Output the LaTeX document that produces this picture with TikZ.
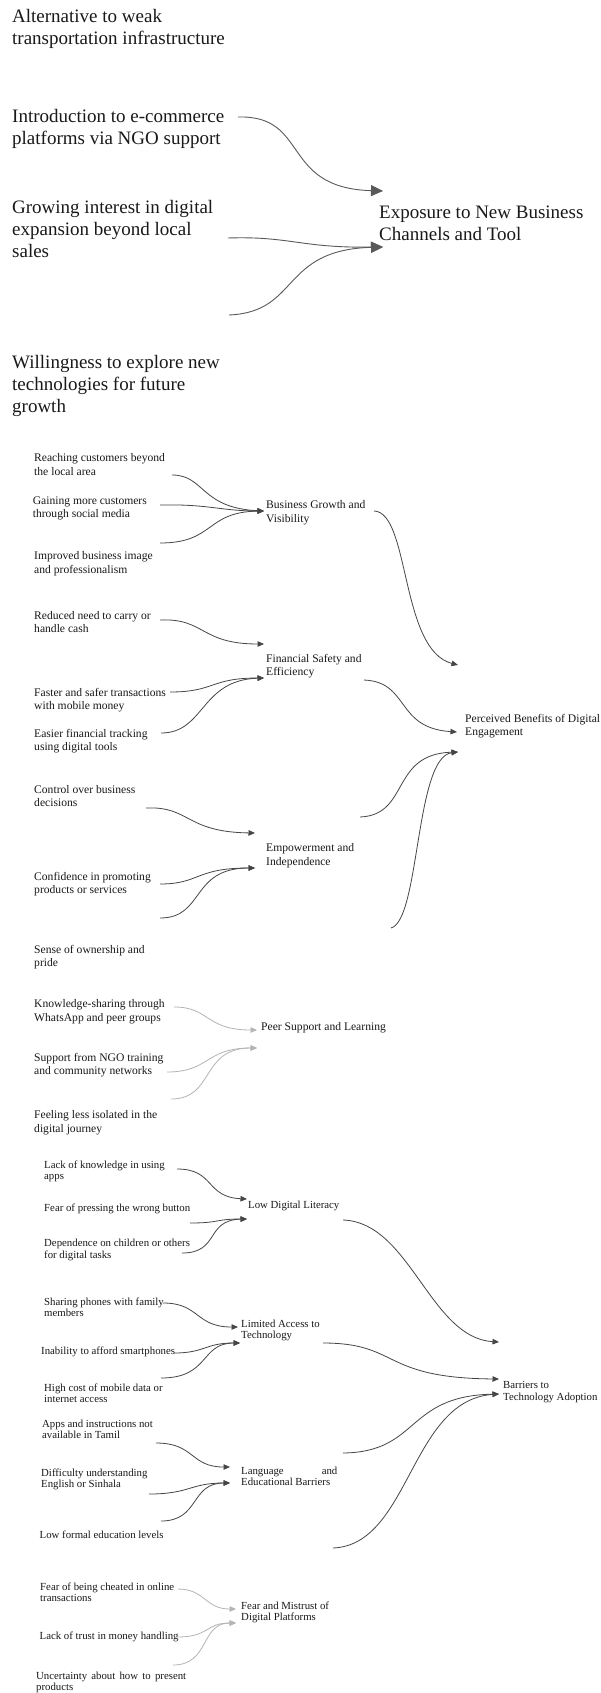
\documentclass[tikz,border=0pt]{standalone}
\usepackage{fontspec}
\setmainfont{Liberation Serif}
\usetikzlibrary{arrows.meta}
\definecolor{topgray}{RGB}{90,90,90}
\definecolor{darkgray}{RGB}{70,70,70}
\definecolor{lightgray}{RGB}{180,180,180}

\begin{document}
\begin{tikzpicture}[x=1pt, y=-1pt,
    txt/.style={anchor=west, inner sep=0pt, align=left, text=black!90},
    big/.style={txt, font={\fontsize{19}{22}\selectfont}},
    mid/.style={txt, font={\fontsize{11.6}{13.6}\selectfont}},
    sml/.style={txt, font={\fontsize{10.8}{11.4}\selectfont}},
    toparr/.style={draw=topgray, line width=0.9pt, -{Triangle[length=12pt, width=11pt]}},
    darkarr/.style={draw=darkgray, line width=0.8pt, -{Triangle[length=6.5pt, width=5.5pt]}},
    lightarr/.style={draw=lightgray, line width=0.8pt, -{Triangle[length=6.5pt, width=5.5pt]}},
]
    \fill[white] (0,0) rectangle (601,1693);
    \useasboundingbox (0,0) rectangle (601,1693);

    % exposure to new channels
    \node[big] (alt) at (12,29) {Alternative to weak\\transportation infrastructure};
    \node[big] (intro) at (12,129) {Introduction to e-commerce\\platforms via NGO support};
    \node[big] (grow) at (12,229) {Growing interest in digital\\expansion beyond local\\sales};
    \node[big] (will) at (12,386) {Willingness to explore new\\technologies for future\\growth};
    \node[big] (expo) at (379,223) {Exposure to New Business\\Channels and Tool};

    \coordinate (intro-out) at (238,117);
    \coordinate (grow-out) at (228,238);
    \coordinate (will-out) at (229,315);
    \coordinate (expo-in1) at (383,191);
    \coordinate (expo-in2) at (383,247);

    \draw[toparr] (intro-out) .. controls (310,115) and (280,188) .. (expo-in1);
    \draw[toparr] (grow-out) .. controls (290,236) and (300,248) .. (expo-in2);
    \draw[toparr] (will-out) .. controls (300,312) and (280,250) .. (expo-in2);

    % perceived benefits
    \node[mid] (reach) at (34,464.5) {Reaching customers beyond\\the local area};
    \node[mid] (gain) at (32.6,508.5) {Gaining more customers\\through social media};
    \node[mid] (image) at (34,564) {Improved business image\\and professionalism};
    \node[mid] (growth) at (266,512.5) {Business Growth and\\Visibility};
    \node[mid] (cash) at (34,622) {Reduced need to carry or\\handle cash};
    \node[mid] (safety) at (266,666) {Financial Safety and\\Efficiency};
    \node[mid] (faster) at (34,700) {Faster and safer transactions\\with mobile money};
    \node[mid] (tracking) at (34,741) {Easier financial tracking\\using digital tools};
    \node[mid] (control) at (34,796) {Control over business\\decisions};
    \node[mid] (empower) at (266,855.5) {Empowerment and\\Independence};
    \node[mid] (confid) at (34,884) {Confidence in promoting\\products or services};
    \node[mid] (pride) at (34,957) {Sense of ownership and\\pride};
    \node[mid] (benefits) at (465,726) {Perceived Benefits of Digital\\Engagement};
    \node[mid] (whatsapp) at (34,1012) {Knowledge-sharing through\\WhatsApp and peer groups};
    \node[mid] (peer) at (261,1028) {Peer Support and Learning};
    \node[mid] (ngo) at (34,1065) {Support from NGO training\\and community networks};
    \node[mid] (isolated) at (34,1123) {Feeling less isolated in the\\digital journey};

    \coordinate (reach-out) at (172,475);
    \coordinate (gain-out) at (160,505);
    \coordinate (image-out) at (160,543);
    \coordinate (growth-in) at (264,511);
    \coordinate (growth-out) at (374,511);
    \coordinate (cash-out) at (160,620);
    \coordinate (faster-out) at (170,692);
    \coordinate (tracking-out) at (161,733);
    \coordinate (safety-in1) at (264,644);
    \coordinate (safety-in2) at (264,678);
    \coordinate (safety-out) at (364,680);
    \coordinate (control-out) at (146,808);
    \coordinate (confid-out) at (160,884);
    \coordinate (pride-out) at (160,918);
    \coordinate (empower-in1) at (255,833);
    \coordinate (empower-in2) at (255,868);
    \coordinate (empower-out) at (360,817);
    \coordinate (loose-a) at (391,928);
    \coordinate (benefits-in1) at (458,665);
    \coordinate (benefits-in2) at (457,732);
    \coordinate (benefits-in3) at (458,752);

    \draw[darkarr] (reach-out) .. controls (205,475) and (200,508) .. (growth-in);
    \draw[darkarr] (gain-out) .. controls (210,504) and (220,511) .. (growth-in);
    \draw[darkarr] (image-out) .. controls (215,543) and (205,512) .. (growth-in);
    \draw[darkarr] (growth-out) .. controls (410,512) and (400,650) .. (benefits-in1);
    \draw[darkarr] (cash-out) .. controls (205,618) and (200,644) .. (safety-in1);
    \draw[darkarr] (faster-out) .. controls (215,692) and (210,678) .. (safety-in2);
    \draw[darkarr] (tracking-out) .. controls (205,733) and (200,680) .. (safety-in2);
    \draw[darkarr] (safety-out) .. controls (410,682) and (395,728) .. (benefits-in2);
    \draw[darkarr] (control-out) .. controls (190,806) and (185,832) .. (empower-in1);
    \draw[darkarr] (confid-out) .. controls (200,884) and (195,868) .. (empower-in2);
    \draw[darkarr] (pride-out) .. controls (205,918) and (190,868) .. (empower-in2);
    \draw[darkarr] (empower-out) .. controls (410,815) and (390,754) .. (benefits-in3);
    \draw[darkarr] (loose-a) .. controls (420,920) and (415,757) .. (benefits-in3);

    \coordinate (whatsapp-out) at (174,1007);
    \coordinate (ngo-out) at (167,1072);
    \coordinate (isolated-out) at (171,1099);
    \coordinate (peer-in1) at (257,1030);
    \coordinate (peer-in2) at (257,1048);

    \draw[lightarr] (whatsapp-out) .. controls (210,1007) and (205,1030) .. (peer-in1);
    \draw[lightarr] (ngo-out) .. controls (210,1072) and (205,1048) .. (peer-in2);
    \draw[lightarr] (isolated-out) .. controls (215,1099) and (200,1048) .. (peer-in2);

    % barriers
    \node[sml] (apps) at (44,1171.5) {Lack of knowledge in using\\apps};
    \node[sml] (literacy) at (248,1206) {Low Digital Literacy};
    \node[sml] (button) at (44,1209) {Fear of pressing the wrong button};
    \node[sml] (children) at (44,1250) {Dependence on children or others\\for digital tasks};
    \node[sml] (sharing) at (44,1307.5) {Sharing phones with family\\members};
    \node[sml] (access) at (241,1330.5) {Limited Access to\\Technology};
    \node[sml] (afford) at (41,1352) {Inability to afford smartphones};
    \node[sml] (datacost) at (44,1393.5) {High cost of mobile data or\\internet access};
    \node[sml] (barriers) at (503,1392) {Barriers to\\Technology Adoption};
    \node[sml] (tamil) at (42,1429.5) {Apps and instructions not\\available in Tamil};
    \node[sml] (language) at (241,1476.5) {Language\hspace*{38pt}and\\Educational Barriers};
    \node[sml] (english) at (41,1479.5) {Difficulty understanding\\English or Sinhala};
    \node[sml] (formal) at (39.5,1535) {Low formal education levels};
    \node[sml] (cheated) at (40,1592) {Fear of being cheated in online\\transactions};
    \node[sml] (mistrust) at (241,1612.5) {Fear and Mistrust of\\Digital Platforms};
    \node[sml] (money) at (39.5,1637) {Lack of trust in money handling};
    \node[sml] (present) at (36,1682.5) {\makebox[150pt][s]{Uncertainty about how to present}\\products};

    \coordinate (apps-out) at (177,1169);
    \coordinate (button-out) at (190,1223);
    \coordinate (children-out) at (182,1253);
    \coordinate (literacy-in1) at (247,1199);
    \coordinate (literacy-in2) at (247,1219);
    \coordinate (literacy-out) at (343,1220);
    \coordinate (sharing-out) at (163,1303);
    \coordinate (afford-out) at (174,1353);
    \coordinate (datacost-out) at (161,1378);
    \coordinate (access-in1) at (238,1327);
    \coordinate (access-in2) at (240,1343);
    \coordinate (access-out) at (323,1343);
    \coordinate (tamil-out) at (156,1443);
    \coordinate (english-out) at (149,1494);
    \coordinate (formal-out) at (161,1521);
    \coordinate (language-in1) at (230,1467);
    \coordinate (language-in2) at (230,1483);
    \coordinate (language-out) at (343,1453);
    \coordinate (loose-b) at (333,1548);
    \coordinate (barriers-in1) at (499,1342);
    \coordinate (barriers-in2) at (499,1379);
    \coordinate (barriers-in3) at (499,1394);

    \draw[darkarr] (apps-out) .. controls (215,1169) and (205,1197) .. (literacy-in1);
    \draw[darkarr] (button-out) .. controls (220,1223) and (215,1219) .. (literacy-in2);
    \draw[darkarr] (children-out) .. controls (220,1253) and (205,1220) .. (literacy-in2);
    \draw[darkarr] (literacy-out) .. controls (410,1222) and (430,1338) .. (barriers-in1);
    \draw[darkarr] (sharing-out) .. controls (200,1303) and (195,1327) .. (access-in1);
    \draw[darkarr] (afford-out) .. controls (205,1353) and (205,1343) .. (access-in2);
    \draw[darkarr] (datacost-out) .. controls (210,1378) and (200,1343) .. (access-in2);
    \draw[darkarr] (access-out) .. controls (400,1343) and (380,1378) .. (barriers-in2);
    \draw[darkarr] (tamil-out) .. controls (195,1443) and (190,1467) .. (language-in1);
    \draw[darkarr] (english-out) .. controls (190,1494) and (190,1483) .. (language-in2);
    \draw[darkarr] (formal-out) .. controls (200,1521) and (190,1483) .. (language-in2);
    \draw[darkarr] (language-out) .. controls (420,1452) and (405,1396) .. (barriers-in3);
    \draw[darkarr] (loose-b) .. controls (410,1545) and (410,1400) .. (barriers-in3);

    \coordinate (cheated-out) at (178,1589);
    \coordinate (money-out) at (177,1637);
    \coordinate (present-out) at (173,1665);
    \coordinate (mistrust-in1) at (236,1609);
    \coordinate (mistrust-in2) at (236,1623);

    \draw[lightarr] (cheated-out) .. controls (205,1589) and (205,1609) .. (mistrust-in1);
    \draw[lightarr] (money-out) .. controls (210,1637) and (205,1623) .. (mistrust-in2);
    \draw[lightarr] (present-out) .. controls (210,1665) and (200,1623) .. (mistrust-in2);
\end{tikzpicture}
\end{document}
